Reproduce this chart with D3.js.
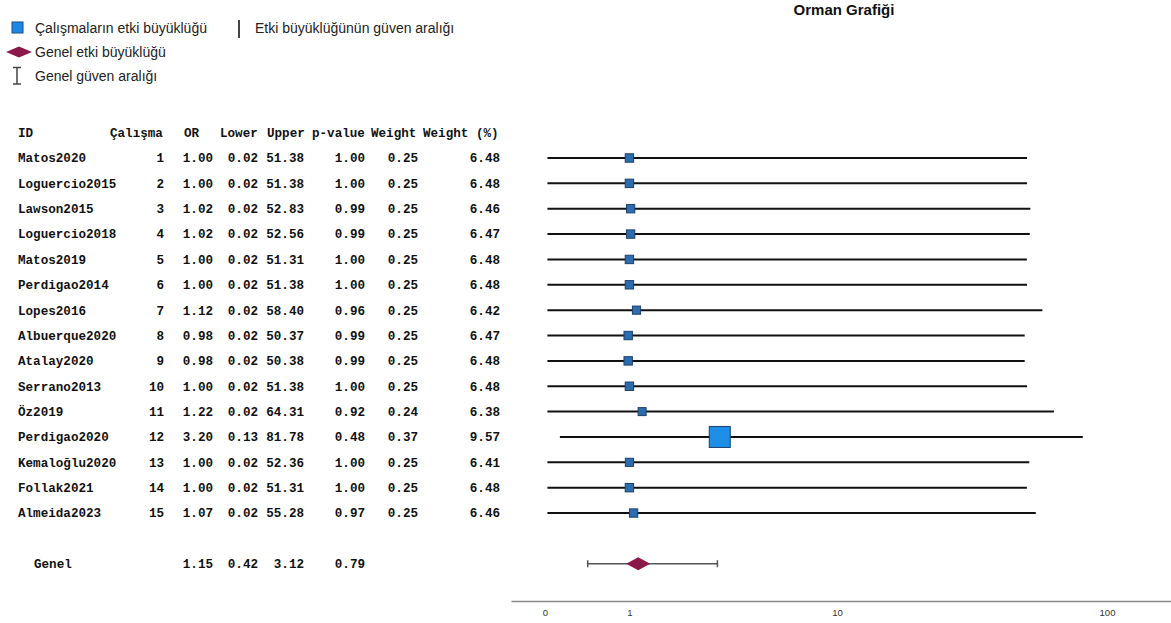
<!DOCTYPE html>
<html>
<head>
<meta charset="utf-8">
<script src="https://cdn.jsdelivr.net/npm/d3@7"></script>
<style>
  body { margin: 0; background: #fff; }
  svg { display: block; }
  .tbl { font-family: "Courier New", "Liberation Mono", monospace; font-weight: bold; font-size: 12.6px; fill: #111; }
  .leg { font-family: Arial, "Liberation Sans", sans-serif; font-size: 14px; fill: #222; }
</style>
</head>
<body>
<div id="chart"></div>
<script>
// study data
const studies = ['Matos2020', 'Loguercio2015', 'Lawson2015', 'Loguercio2018', 'Matos2019',
    'Perdigao2014', 'Lopes2016', 'Albuerque2020', 'Atalay2020', 'Serrano2013',
    'Öz2019', 'Perdigao2020', 'Kemaloğlu2020', 'Follak2021', 'Almeida2023'];
const orValues = [1.00, 1.00, 1.02, 1.02, 1.00, 1.00, 1.12, 0.98, 0.98, 1.00, 1.22, 3.20, 1.00, 1.00, 1.07];
const lowerValues = [0.02, 0.02, 0.02, 0.02, 0.02, 0.02, 0.02, 0.02, 0.02, 0.02, 0.02, 0.13, 0.02, 0.02, 0.02];
const upperValues = [51.38, 51.38, 52.83, 52.56, 51.31, 51.38, 58.40, 50.37, 50.38, 51.38, 64.31, 81.78, 52.36, 51.31, 55.28];
const pValues = [1.00, 1.00, 0.99, 0.99, 1.00, 1.00, 0.96, 0.99, 0.99, 1.00, 0.92, 0.48, 1.00, 1.00, 0.97];
const weights = [0.25, 0.25, 0.25, 0.25, 0.25, 0.25, 0.25, 0.25, 0.25, 0.25, 0.24, 0.37, 0.25, 0.25, 0.25];
const weightPct = [6.48, 6.48, 6.46, 6.47, 6.48, 6.48, 6.42, 6.47, 6.48, 6.48, 6.38, 9.57, 6.41, 6.48, 6.46];

// overall
const overallLabel = 'Genel';
const overallOR = 1.15, overallLower = 0.42, overallUpper = 3.12, overallP = 0.79;

const tickValues = [0, 1, 10, 100];

const data = studies.map((s, i) => ({
    id: s, n: i + 1, or: orValues[i], lower: lowerValues[i], upper: upperValues[i],
    p: pValues[i], w: weights[i], wp: weightPct[i]
}));

const width = 1171, height = 623;

const svg = d3.select('#chart').append('svg')
    .attr('width', width)
    .attr('height', height);

// scales
const x = d3.scaleSymlog().constant(1)
    .domain([0, 100])
    .range([545, 1107]);

const y = d3.scaleLinear()
    .domain([0, 16])
    .range([158, 158 + 16 * 25.36]);

const size = d3.scaleLinear()
    .domain(d3.extent(weightPct))
    .range([8, 21]);

// title
svg.append('text')
    .attr('x', 844).attr('y', 15)
    .attr('text-anchor', 'middle')
    .style('font-family', 'Arial, "Liberation Sans", sans-serif')
    .style('font-weight', 'bold')
    .style('font-size', '15px')
    .attr('fill', '#111')
    .text('Orman Grafiği');

// legend
const leg = svg.append('g');
leg.append('rect').attr('x', 12).attr('y', 22).attr('width', 11).attr('height', 11)
    .attr('fill', '#1E88E5').attr('stroke', '#1b4f86').attr('stroke-width', 1);
leg.append('text').attr('class', 'leg').attr('x', 35).attr('y', 33).text('Çalışmaların etki büyüklüğü');
leg.append('line').attr('x1', 239).attr('x2', 239).attr('y1', 20).attr('y2', 38)
    .attr('stroke', '#444').attr('stroke-width', 2);
leg.append('text').attr('class', 'leg').attr('x', 255).attr('y', 33).text('Etki büyüklüğünün güven aralığı');
leg.append('path').attr('d', 'M6,52 L19,46.5 L32,52 L19,57.5 Z').attr('fill', '#8B1A4A');
leg.append('text').attr('class', 'leg').attr('x', 35).attr('y', 57).text('Genel etki büyüklüğü');
leg.append('path').attr('d', 'M13,67.5 H21 M17,67.5 V84 M13,84 H21')
    .attr('stroke', '#444').attr('stroke-width', 1.5).attr('fill', 'none');
leg.append('text').attr('class', 'leg').attr('x', 35).attr('y', 81).text('Genel güven aralığı');

// table
const fmt = d3.format('.2f');
const cols = [
    {key: 'n', head: 'Çalışma', hx: 110, vx: 164, f: d => d},
    {key: 'or', head: 'OR', hx: 184, vx: 213, f: fmt},
    {key: 'lower', head: 'Lower', hx: 220, vx: 258, f: fmt},
    {key: 'upper', head: 'Upper', hx: 267, vx: 304, f: fmt},
    {key: 'p', head: 'p-value', hx: 312, vx: 365, f: fmt},
    {key: 'w', head: 'Weight', hx: 371, vx: 418, f: fmt},
    {key: 'wp', head: 'Weight (%)', hx: 423, vx: 500, f: fmt}
];

const tbl = svg.append('g').attr('class', 'tbl');
tbl.append('text').attr('x', 18).attr('y', y(-1)).attr('dy', '0.35em').text('ID');
cols.forEach(c => {
    tbl.append('text').attr('x', c.hx).attr('y', y(-1)).attr('dy', '0.35em').text(c.head);
});

const rows = tbl.selectAll('g.row')
    .data(data)
    .enter()
    .append('g')
    .attr('class', 'row');

rows.append('text').attr('x', 18).attr('y', (d, i) => y(i)).attr('dy', '0.35em').text(d => d.id);
cols.forEach(c => {
    rows.append('text')
        .attr('x', c.vx)
        .attr('y', (d, i) => y(i))
        .attr('dy', '0.35em')
        .attr('text-anchor', 'end')
        .text(d => c.f(d[c.key]));
});

// overall row in table
const overall = {or: overallOR, lower: overallLower, upper: overallUpper, p: overallP};
tbl.append('text').attr('x', 34).attr('y', y(16)).attr('dy', '0.35em').text(overallLabel);
cols.slice(1, 5).forEach(c => {
    tbl.append('text').attr('x', c.vx).attr('y', y(16)).attr('dy', '0.35em')
        .attr('text-anchor', 'end').text(fmt(overall[c.key]));
});

// CI lines
svg.selectAll('line.ci')
    .data(data)
    .enter()
    .append('line')
    .attr('class', 'ci')
    .attr('x1', d => x(d.lower))
    .attr('x2', d => x(d.upper))
    .attr('y1', (d, i) => y(i))
    .attr('y2', (d, i) => y(i))
    .attr('stroke', '#111')
    .attr('stroke-width', 2);

// effect squares
svg.selectAll('rect.es')
    .data(data)
    .enter()
    .append('rect')
    .attr('class', 'es')
    .attr('x', d => x(d.or) - size(d.wp) / 2)
    .attr('y', (d, i) => y(i) - size(d.wp) / 2)
    .attr('width', d => size(d.wp))
    .attr('height', d => size(d.wp))
    .attr('fill', d => d.wp > 8 ? '#1E8FE6' : '#2D6DAE')
    .attr('stroke', '#1c3f6e')
    .attr('stroke-width', 1);

// overall CI
const oy = y(16);
svg.append('line')
    .attr('x1', x(overallLower)).attr('x2', x(overallUpper))
    .attr('y1', oy).attr('y2', oy)
    .attr('stroke', '#555').attr('stroke-width', 1.5);
[overallLower, overallUpper].forEach(v => {
    svg.append('line')
        .attr('x1', x(v)).attr('x2', x(v))
        .attr('y1', oy - 3.5).attr('y2', oy + 3.5)
        .attr('stroke', '#555').attr('stroke-width', 1.5);
});
svg.append('path')
    .attr('d', `M${x(overallOR) - 12},${oy} L${x(overallOR)},${oy - 6.5} L${x(overallOR) + 12},${oy} L${x(overallOR)},${oy + 6.5} Z`)
    .attr('fill', '#8B1A4A');

// axis
const axisScale = x.copy()
    .domain([x.invert(511), x.invert(1171)])
    .range([511, 1171]);

const xAxis = d3.axisBottom(axisScale)
    .tickValues(tickValues)
    .tickFormat(d3.format('d'))
    .tickSize(0)
    .tickPadding(8)
    .tickSizeOuter(0);

const xAxisGroup = svg.append('g')
    .attr('class', 'axis x-axis')
    .attr('transform', 'translate(0, 601)')
    .call(xAxis);

xAxisGroup.select('.domain').attr('stroke', '#888').attr('stroke-width', 1.3);
xAxisGroup.selectAll('text')
    .style('font-family', 'Arial, "Liberation Sans", sans-serif')
    .style('font-size', '9.5px')
    .attr('fill', '#333');
</script>
</body>
</html>
